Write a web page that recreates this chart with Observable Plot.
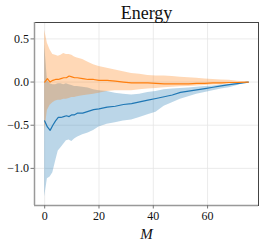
<!DOCTYPE html>
<html>
<head>
<meta charset="utf-8">
<script src="https://cdn.jsdelivr.net/npm/d3@7"></script>
<script src="https://cdn.jsdelivr.net/npm/@observablehq/plot@0.6"></script>
<style>
  html, body { margin: 0; padding: 0; background: #fff; }
  svg text { font-family: "Liberation Serif", "Times New Roman", serif !important; }
</style>
</head>
<body>
<div id="chart"></div>
<script>
const title = "Energy";
const xLabel = "M";
const xTicks = [0, 20, 40, 60];
const yTicks = [0.5, 0, -0.5, -1.0];

const M = [0,1,2,3,4,5,6,7,8,9,10,11,12,14,16,18,20,23,26,29,32,35,38,41,44,47,50,53,56,59,62,65,68,71,75];

const orangeMean = [0.00,0.04,0.00,0.02,0.03,0.03,0.04,0.05,0.05,0.07,0.06,0.05,0.05,0.04,0.03,0.03,0.02,0.02,0.01,0.00,-0.01,-0.01,-0.01,-0.015,-0.02,-0.02,-0.02,-0.02,-0.015,-0.015,-0.01,-0.01,-0.005,-0.005,0.00];
const orangeUpper = [0.60,0.45,0.37,0.32,0.31,0.30,0.31,0.33,0.32,0.32,0.31,0.29,0.28,0.26,0.23,0.20,0.18,0.16,0.14,0.12,0.10,0.09,0.075,0.07,0.07,0.065,0.055,0.05,0.045,0.035,0.03,0.025,0.02,0.01,0.00];
const orangeLower = [-0.57,-0.33,-0.27,-0.24,-0.22,-0.21,-0.21,-0.20,-0.20,-0.19,-0.18,-0.18,-0.17,-0.16,-0.15,-0.14,-0.13,-0.11,-0.10,-0.10,-0.10,-0.09,-0.08,-0.075,-0.065,-0.06,-0.055,-0.05,-0.045,-0.04,-0.035,-0.03,-0.02,-0.015,0.00];

const blueMean = [-0.45,-0.52,-0.56,-0.50,-0.45,-0.41,-0.41,-0.40,-0.39,-0.40,-0.38,-0.38,-0.36,-0.36,-0.34,-0.32,-0.31,-0.29,-0.28,-0.26,-0.25,-0.23,-0.21,-0.19,-0.17,-0.15,-0.12,-0.105,-0.09,-0.075,-0.06,-0.045,-0.03,-0.018,0.00];
const blueUpper = [0.43,0.02,-0.02,-0.03,-0.03,-0.02,-0.02,-0.03,-0.02,-0.03,-0.04,-0.05,-0.05,-0.06,-0.07,-0.09,-0.10,-0.11,-0.13,-0.14,-0.15,-0.14,-0.12,-0.11,-0.09,-0.08,-0.075,-0.07,-0.06,-0.05,-0.045,-0.035,-0.025,-0.015,0.00];
const blueLower = [-1.33,-1.12,-1.10,-1.05,-0.92,-0.80,-0.76,-0.72,-0.68,-0.67,-0.69,-0.66,-0.64,-0.61,-0.59,-0.56,-0.52,-0.49,-0.47,-0.45,-0.44,-0.41,-0.38,-0.35,-0.28,-0.24,-0.20,-0.17,-0.14,-0.12,-0.10,-0.08,-0.065,-0.04,0.00];

const blue = "#1f77b4";
const orange = "#ff7f0e";

const rows = M.map((m, i) => ({
  m,
  om: orangeMean[i], ou: orangeUpper[i], ol: orangeLower[i],
  bm: blueMean[i], bu: blueUpper[i], bl: blueLower[i]
}));

const fmt = v => (v < 0 ? "\u2212" : "") + Math.abs(v).toFixed(1);

const chart = Plot.plot({
  width: 262,
  height: 243,
  marginLeft: 34,
  marginRight: 4,
  marginTop: 22,
  marginBottom: 38,
  style: { fontFamily: "'Liberation Serif', serif", fontSize: "12px", background: "#fff", color: "#222" },
  x: { domain: [-3.75, 78.75] },
  y: { domain: [-1.43, 0.69] },
  marks: [
    Plot.gridX(xTicks, { stroke: "#e6e6e6", strokeOpacity: 1, strokeWidth: 0.8 }),
    Plot.gridY(yTicks, { stroke: "#e6e6e6", strokeOpacity: 1, strokeWidth: 0.8 }),
    Plot.areaY(rows, { x: "m", y1: "bl", y2: "bu", fill: blue, fillOpacity: 0.3 }),
    Plot.areaY(rows, { x: "m", y1: "ol", y2: "ou", fill: orange, fillOpacity: 0.3 }),
    Plot.line(rows, { x: "m", y: "bm", stroke: blue, strokeWidth: 1.2 }),
    Plot.line(rows, { x: "m", y: "om", stroke: orange, strokeWidth: 1.2 }),
    Plot.frame({ stroke: "#444", strokeWidth: 1 }),
    Plot.ruleX([-3.75], { stroke: "#999", strokeWidth: 1.5 }),
    Plot.ruleY([-1.43], { stroke: "#999", strokeWidth: 1.5 }),
    Plot.axisX({ ticks: xTicks, tickFormat: d => String(d), tickSize: 3.5, tickPadding: 2, stroke: "#777", label: null, fontSize: 12, fill: "#111" }),
    Plot.axisY({ ticks: yTicks, tickFormat: fmt, tickSize: 3.5, tickPadding: 2, stroke: "#777", label: null, fontSize: 12, fill: "#111" }),
    Plot.text([title], { frameAnchor: "top", lineAnchor: "bottom", dy: -4, fontSize: 18, fill: "#111" }),
    Plot.text([xLabel], { frameAnchor: "bottom", lineAnchor: "top", dy: 23, fontSize: 15, fontStyle: "italic", fill: "#111" })
  ]
});

document.getElementById("chart").appendChild(chart);
</script>
</body>
</html>
